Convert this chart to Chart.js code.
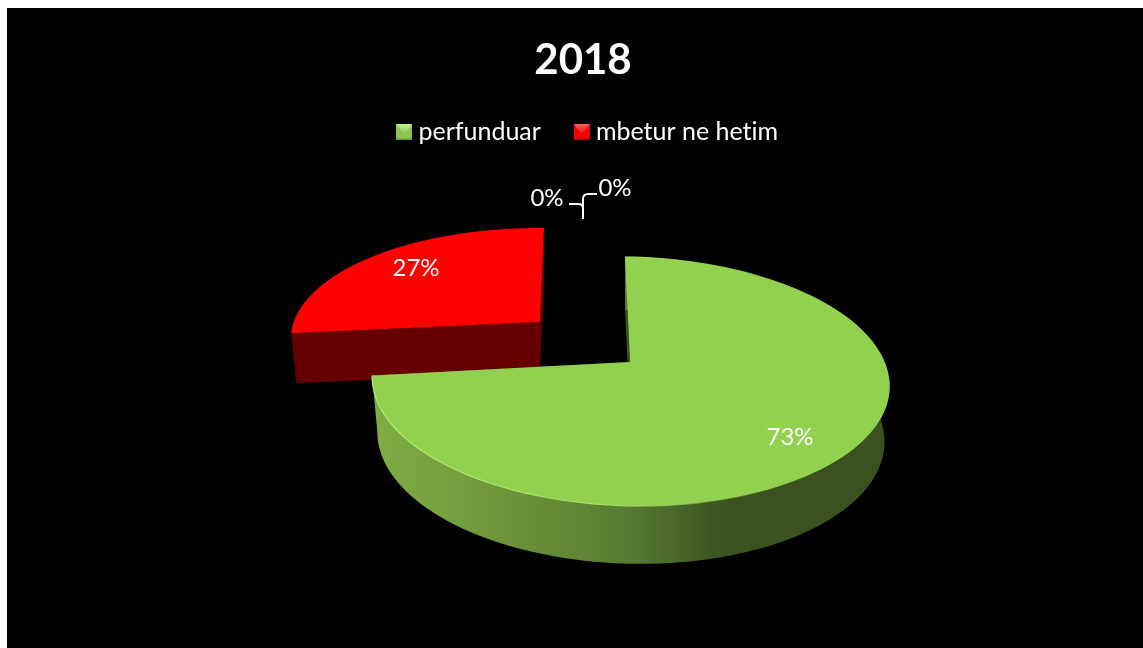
<!DOCTYPE html>
<html>
<head>
<meta charset="utf-8">
<title>2018</title>
<script src="https://cdn.jsdelivr.net/npm/chart.js@4"></script>
<style>
    html, body { margin: 0; height: 100%; background: #fff; overflow: hidden; }
    #pie { position: absolute; left: 7px; top: 8px; background: #000; }
</style>
</head>
<body>
<canvas id="pie" width="1136" height="640"></canvas>
<script>
const chartTitle = '2018';
const categories = ['perfunduar', 'mbetur ne hetim', '', ''];
const percentValues = [73, 27, 0, 0];
const sliceColors = ['#92d050', '#ff0000', '#92d050', '#ff0000'];
const wallColors = ['#3b5220', '#660000', '#3b5220', '#660000'];

// where the percent labels sit, page pixels
const labelSpots = [[790, 437], [416, 268], [547, 198], [615, 188]];

// fake 3D: the unit disc gets a perspective projection, one top and one bottom view per slice
const RX = 255.5, RY = 121.4, PERSP = 0.1566;
const views = [
    {
        top: { cx: 630, cy: 362, sx: 1, sy: 1, skew: 5.8, tilt: 2 },
        bottom: { cx: 630, cy: 417, sx: 0.98, sy: 1.02, skew: 5.8, tilt: 2 }
    },
    {
        top: { cx: 540, cy: 322, sx: 0.96, sy: 0.895, skew: -4.8, tilt: 2.5 },
        bottom: { cx: 540, cy: 372, sx: 0.94, sy: 0.895, skew: -4.8, tilt: 2.5 }
    }
];

function project(view, angle) {
    const u = Math.cos(angle);
    const v = Math.sin(angle);
    const w = 1 - PERSP * v;
    return [
        view.cx + view.sx * (RX * u + view.skew * v) / w,
        view.cy + (view.sy * RY * v + view.tilt * u) / w
    ];
}

function arcPoints(view, from, to) {
    const pts = [];
    const steps = 120;
    for (let i = 0; i <= steps; i++) {
        pts.push(project(view, from + (to - from) * i / steps));
    }
    return pts;
}

function fillPoly(ctx, pts, color) {
    ctx.beginPath();
    pts.forEach((p, i) => i ? ctx.lineTo(p[0], p[1]) : ctx.moveTo(p[0], p[1]));
    ctx.closePath();
    ctx.fillStyle = color;
    ctx.fill();
}

function drawSlice(ctx, el, index) {
    const view = views[index];
    const a0 = el.startAngle, a1 = el.endAngle;
    const topArc = arcPoints(view.top, a0, a1);
    const bottomArc = arcPoints(view.bottom, a0, a1);

    // the two cut faces
    [a0, a1].forEach(a => {
        fillPoly(ctx, [
            [view.top.cx, view.top.cy],
            project(view.top, a),
            project(view.bottom, a),
            [view.bottom.cx, view.bottom.cy]
        ], wallColors[index]);
    });

    if (index === 0) {
        const side = ctx.createLinearGradient(373, 0, 890, 0);
        side.addColorStop(0, '#7fae45');
        side.addColorStop(0.25, '#6c963a');
        side.addColorStop(0.5, '#567a32');
        side.addColorStop(0.68, '#3b5220');
        side.addColorStop(1, '#3b5220');
        fillPoly(ctx, topArc.concat(bottomArc.slice().reverse()), side);
    }

    fillPoly(ctx, [[view.top.cx, view.top.cy]].concat(topArc), el.options.backgroundColor);

    if (index === 0) {
        // light rim along the near edge
        const rim = ctx.createLinearGradient(373, 0, 800, 0);
        rim.addColorStop(0, '#b4ee6c');
        rim.addColorStop(0.6, '#a6e062');
        rim.addColorStop(1, 'rgba(146,208,80,0)');
        ctx.beginPath();
        topArc.forEach((p, i) => i ? ctx.lineTo(p[0], p[1]) : ctx.moveTo(p[0], p[1]));
        ctx.strokeStyle = rim;
        ctx.lineWidth = 1.2;
        ctx.stroke();
    }
}

const pie3d = {
    id: 'pie3d',
    beforeDraw(chart) {
        // no "ti" ligature in the legend text
        chart.ctx.textRendering = 'optimizeSpeed';
    },
    beforeDatasetsDraw(chart) {
        const ctx = chart.ctx;
        const arcs = chart.getDatasetMeta(0).data;
        ctx.save();
        ctx.translate(-7, -8);
        // back slice first
        for (let i = 1; i >= 0; i--) {
            drawSlice(ctx, arcs[i], i);
        }
        ctx.restore();
        return false;
    },
    afterDraw(chart) {
        const ctx = chart.ctx;
        ctx.save();
        ctx.translate(-7, -8);

        // leader lines of the two empty slices
        ctx.strokeStyle = '#fff';
        ctx.lineWidth = 2;
        ctx.beginPath();
        ctx.moveTo(569, 204);
        ctx.lineTo(578, 204);
        ctx.quadraticCurveTo(583, 204, 583, 208);
        ctx.moveTo(597, 194);
        ctx.lineTo(588, 194);
        ctx.quadraticCurveTo(583, 194, 583, 199);
        ctx.lineTo(583, 219);
        ctx.stroke();

        ctx.fillStyle = '#fff';
        ctx.font = '24px Lato';
        ctx.textAlign = 'center';
        ctx.textBaseline = 'middle';
        percentValues.forEach((v, i) => {
            ctx.fillText(v + '%', labelSpots[i][0], labelSpots[i][1]);
        });
        ctx.restore();
    },
    afterLayout(chart) {
        chart.legend.left += 7.75;
        chart.legend.right += 7.75;
        chart.legend.top -= 5;
        chart.legend.bottom -= 5;
    }
};

// small pyramid bevel like the legend keys of the original
function bevelMarker(face, light, dark) {
    const c = document.createElement('canvas');
    c.width = 16;
    c.height = 16;
    const g = c.getContext('2d');
    g.fillStyle = face;
    g.fillRect(0, 0, 16, 16);
    const shine = g.createLinearGradient(0, 0, 0, 10);
    shine.addColorStop(0, light);
    shine.addColorStop(1, face);
    g.fillStyle = shine;
    g.beginPath();
    g.moveTo(0, 0);
    g.lineTo(16, 0);
    g.lineTo(8, 10);
    g.closePath();
    g.fill();
    g.fillStyle = dark;
    g.fillRect(0, 14, 16, 2);
    return c;
}
const markers = [bevelMarker('#8cc44c', '#c6e890', '#6f9a3a'), bevelMarker('#f40000', '#ff6060', '#b00000')];

new Chart(document.getElementById('pie'), {
    type: 'pie',
    plugins: [pie3d],
    data: {
        labels: categories,
        datasets: [{ data: percentValues, backgroundColor: sliceColors, borderWidth: 0 }]
    },
    options: {
        responsive: false,
        animation: false,
        layout: { padding: { left: 16 } },
        plugins: {
            title: {
                display: true,
                text: chartTitle,
                color: '#fff',
                font: { family: 'Lato', size: 42, weight: 'bold' },
                padding: { top: 27, bottom: 0 }
            },
            legend: {
                position: 'top',
                labels: {
                    color: '#fff',
                    font: { family: 'Lato', size: 25 },
                    usePointStyle: true,
                    pointStyleWidth: 3,
                    padding: 39.5,
                    generateLabels(chart) {
                        const items = Chart.overrides.pie.plugins.legend.labels.generateLabels(chart);
                        items.forEach((item, i) => { item.pointStyle = markers[i % 2]; });
                        return items.filter(item => item.text !== '');
                    }
                }
            },
            tooltip: { enabled: false }
        }
    }
});
</script>
</body>
</html>
